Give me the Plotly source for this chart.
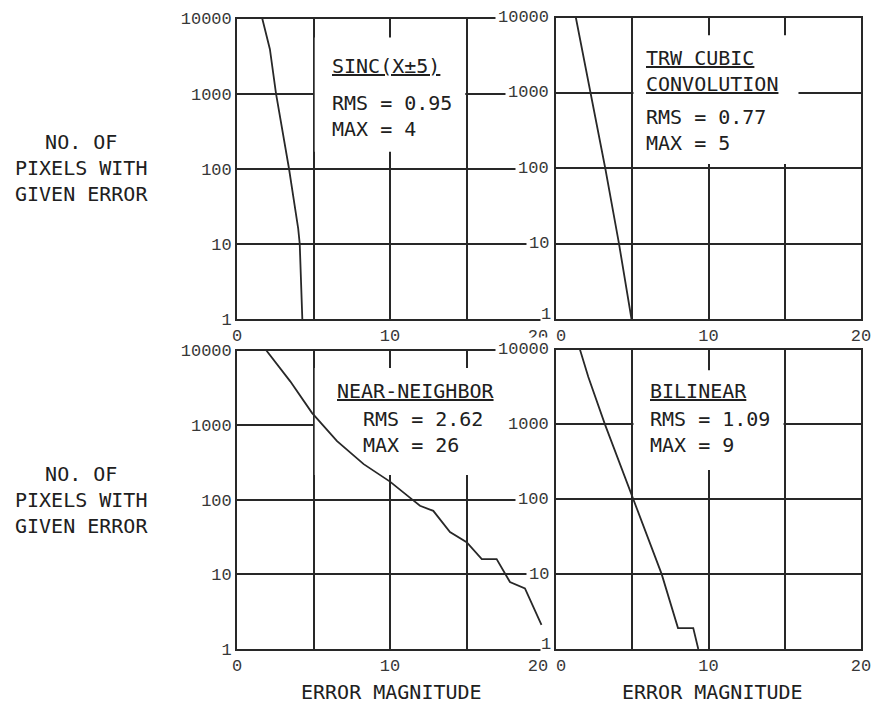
import math
import plotly.graph_objects as go

# ---------------- data ----------------
x_tick_vals = [0, 10, 20]
x_tick_text_left = ["0", "10", "20\u00a0"]
x_tick_text_right = ["\u00a00", "10", "20"]
x_grid_vals = [5, 15]
y_tick_vals = [1, 10, 100, 1000, 10000]
y_tick_text = ["1", "10", "100", "1000", "10000"]

sinc_x = [1.65, 2.15, 2.55, 3.4, 4.0, 4.1, 4.27]
sinc_y = [10000, 3900, 1000, 100, 16, 10, 1]

trw_x = [1.3, 2.27, 3.23, 4.13, 4.95]
trw_y = [10000, 1000, 100, 10, 1]

nn_x = [1.92, 3.48, 4.9, 6.54, 8.28, 10.0, 11.42, 11.96, 12.83, 13.92, 15.01, 16.0, 16.97, 17.84, 18.82, 19.9]
nn_y = [10000, 3860, 1460, 610, 300, 175, 102, 83, 71, 37, 27, 16, 16, 7.9, 6.5, 2.1]

bil_x = [1.57, 2.12, 3.21, 5.07, 6.93, 8.0, 9.0, 9.33]
bil_y = [10000, 4300, 1000, 100, 10, 1.9, 1.9, 1]

method_names = ["SINC(X±5)", "TRW CUBIC<br>CONVOLUTION", "NEAR-NEIGHBOR", "BILINEAR"]
rms_values = ["0.95", "0.77", "2.62", "1.09"]
max_values = ["4", "5", "26", "9"]

y_title = "NO. OF<br>PIXELS WITH<br>GIVEN ERROR"
x_title = "ERROR MAGNITUDE"

# ---------------- styling / layout ----------------
W, H = 874, 705
INK = "#282828"
TXT = "#202020"
TICK_FONT = dict(family="Liberation Mono", size=17, color="#383838")
LABEL_FONT = dict(family="DejaVu Sans Mono", size=20, color=TXT)

def fx(px):
    return px / W

def fy(py):
    return 1 - py / H

def px_x(a, b):
    return [fx(a), fx(b)]

def px_y(top, bottom):
    return [fy(bottom), fy(top)]

panels = [
    dict(sx="", x=sinc_x, y=sinc_y, xd=px_x(237, 543), yd=px_y(18.5, 319), left=True,
         title_pos=(0.304, 0.843), body_pos=(0.304, 0.675),
         mask=(5.08, 14.92, 2.227, 3.747)),
    dict(sx="2", x=trw_x, y=trw_y, xd=px_x(556, 861), yd=px_y(17.5, 319), left=False,
         title_pos=(0.29, 0.823), body_pos=(0.29, 0.626),
         mask=(5.08, 15.9, 2.057, 3.764)),
    dict(sx="3", x=nn_x, y=nn_y, xd=px_x(237, 543), yd=px_y(350.5, 649), left=True,
         title_pos=(0.32, 0.865), body_pos=(0.404, 0.728),
         mask=(5.08, 20.0, 2.333, 3.765)),
    dict(sx="4", x=bil_x, y=bil_y, xd=px_x(556, 861), yd=px_y(349.5, 649), left=False,
         title_pos=(0.303, 0.861), body_pos=(0.303, 0.725),
         mask=(5.08, 14.92, 2.39, 3.724)),
]

fig = go.Figure()
layout = dict(
    width=W, height=H, autosize=False,
    margin=dict(l=0, r=0, t=0, b=0, pad=0),
    paper_bgcolor="white", plot_bgcolor="white",
    showlegend=False,
)
annotations = []
shapes = []

for i, p in enumerate(panels):
    sx = p["sx"]
    xa, ya = "x" + sx, "y" + sx
    fig.add_trace(go.Scatter(
        x=p["x"], y=p["y"], mode="lines", xaxis=xa, yaxis=ya,
        line=dict(color=INK, width=1.8), hoverinfo="skip",
    ))
    layout["xaxis" + sx] = dict(
        domain=p["xd"], anchor=ya, range=[0, 20], automargin=False,
        tickmode="array", tickvals=x_tick_vals,
        ticktext=x_tick_text_left if p["left"] else x_tick_text_right,
        ticks="", tickfont=TICK_FONT,
        showgrid=True, gridcolor=INK, gridwidth=1.7,
        minor=dict(tickmode="array", tickvals=x_grid_vals, showgrid=True,
                   gridcolor=INK, gridwidth=1.7, ticks=""),
        showline=True, linecolor=INK, linewidth=1.7, mirror=True,
        zeroline=False, fixedrange=True,
    )
    layout["yaxis" + sx] = dict(
        domain=p["yd"], anchor=xa, type="log", range=[0, 4], automargin=False,
        tickmode="array", tickvals=y_tick_vals, ticktext=y_tick_text,
        ticks="", tickfont=TICK_FONT, showticklabels=p["left"],
        showgrid=True, gridcolor=INK, gridwidth=1.7,
        showline=True, linecolor=INK, linewidth=1.7, mirror=(not p["left"]),
        zeroline=False, fixedrange=True,
    )
    # white paste-up area behind the label block (hides grid, not the curve)
    m = p["mask"]
    shapes.append(dict(type="rect", xref=xa, yref=ya, x0=m[0], x1=m[1],
                       y0=10 ** m[2], y1=10 ** m[3],
                       fillcolor="white", line=dict(width=0), layer="between"))
    # label block
    title_html = "<br>".join("<u>%s</u>" % t for t in method_names[i].split("<br>"))
    annotations.append(dict(
        xref=xa + " domain", yref=ya + " domain",
        x=p["title_pos"][0], y=p["title_pos"][1], xanchor="left", yanchor="middle",
        text=title_html, showarrow=False, align="left", font=LABEL_FONT,
    ))
    annotations.append(dict(
        xref=xa + " domain", yref=ya + " domain",
        x=p["body_pos"][0], y=p["body_pos"][1], xanchor="left", yanchor="middle",
        text="RMS = %s<br>MAX = %s" % (rms_values[i], max_values[i]),
        showarrow=False, align="left", font=LABEL_FONT,
    ))
    # right-hand panels: tick labels pasted over the neighbouring panel
    if not p["left"]:
        for v, t in zip(y_tick_vals, y_tick_text):
            bottom = (v == y_tick_vals[0])
            annotations.append(dict(
                xref=xa, yref=ya, x=0, y=math.log10(v), xanchor="right", yanchor="middle",
                xshift=-4, yshift=5 if bottom else 0, text=t, showarrow=False,
                font=TICK_FONT, bgcolor="white", borderpad=0 if bottom else 2,
            ))

# axis titles
for yc in (168, 500):
    annotations.append(dict(
        xref="paper", yref="paper", x=fx(81), y=fy(yc), xanchor="center", yanchor="middle",
        text=y_title, showarrow=False, align="center", font=LABEL_FONT,
    ))
for xc in (391, 712):
    annotations.append(dict(
        xref="paper", yref="paper", x=fx(xc), y=fy(692), xanchor="center", yanchor="middle",
        text=x_title, showarrow=False, font=LABEL_FONT,
    ))

layout["annotations"] = annotations
layout["shapes"] = shapes
fig.update_layout(**layout)

fig.write_html("out.html", config={"displayModeBar": False},
               post_script="document.body.style.margin = '0';")
